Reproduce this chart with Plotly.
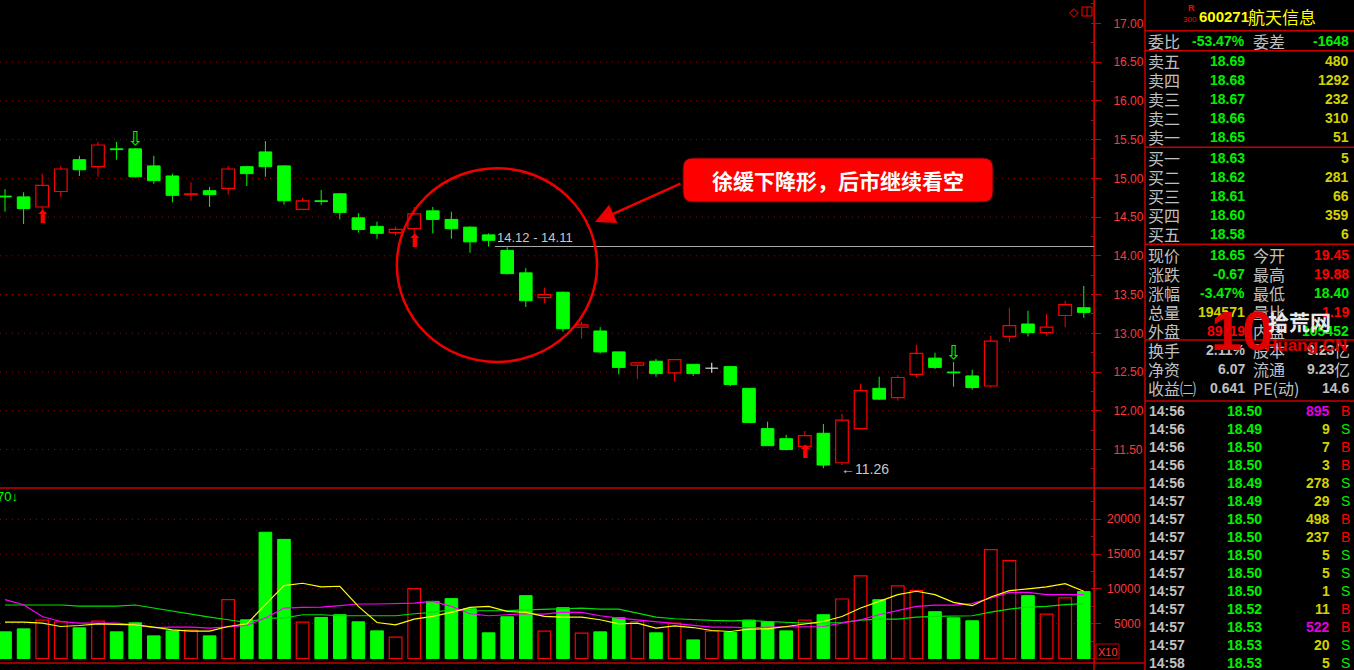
import plotly.graph_objects as go

W, H = 1354, 670

# ---------------- data ----------------
opens = [14.77, 14.76, 14.63, 14.83, 15.24, 15.15, 15.38, 15.38, 15.16, 15.03,
         14.79, 14.84, 14.87, 15.15, 15.34, 15.16, 14.60, 14.71, 14.80, 14.49,
         14.38, 14.30, 14.35, 14.58, 14.47, 14.37, 14.27, 14.07, 13.78, 13.46,
         13.53, 13.08, 13.03, 12.76, 12.59, 12.64, 12.49, 12.60, 12.55, 12.57,
         12.29, 11.77, 11.64, 11.54, 11.71, 11.33, 11.77, 12.29, 12.17, 12.47,
         12.68, 12.50, 12.45, 12.32, 12.96, 13.12, 13.01, 13.23, 13.33]
highs = [14.86, 14.82, 15.06, 15.16, 15.29, 15.47, 15.47, 15.39, 15.29, 15.06,
         14.95, 14.89, 15.16, 15.16, 15.48, 15.17, 14.75, 14.85, 14.81, 14.55,
         14.44, 14.38, 14.63, 14.63, 14.57, 14.38, 14.29, 14.11, 13.84, 13.59,
         13.54, 13.15, 13.08, 12.76, 12.62, 12.67, 12.67, 12.60, 12.62, 12.57,
         12.29, 11.86, 11.69, 11.74, 11.83, 11.96, 12.35, 12.44, 12.46, 12.85,
         12.75, 12.63, 12.53, 12.97, 13.33, 13.29, 13.25, 13.42, 13.61]
lows = [14.57, 14.41, 14.57, 14.76, 15.03, 15.02, 15.24, 15.01, 14.93, 14.69,
        14.71, 14.63, 14.79, 14.90, 15.02, 14.66, 14.60, 14.66, 14.47, 14.30,
        14.22, 14.26, 14.26, 14.29, 14.22, 14.04, 14.12, 13.76, 13.34, 13.39,
        13.02, 12.93, 12.74, 12.47, 12.41, 12.44, 12.38, 12.45, 12.49, 12.32,
        11.85, 11.55, 11.49, 11.54, 11.26, 11.30, 11.76, 12.14, 12.13, 12.43,
        12.54, 12.31, 12.27, 12.30, 12.89, 12.96, 12.97, 13.08, 13.20]
closes = [14.76, 14.61, 14.91, 15.12, 15.11, 15.43, 15.37, 15.02, 14.97, 14.78,
          14.80, 14.79, 15.12, 15.06, 15.15, 14.71, 14.71, 14.70, 14.56, 14.34,
          14.29, 14.34, 14.54, 14.47, 14.35, 14.18, 14.20, 13.77, 13.42, 13.50,
          13.06, 13.11, 12.76, 12.56, 12.62, 12.48, 12.66, 12.48, 12.55, 12.34,
          11.85, 11.55, 11.50, 11.68, 11.30, 11.88, 12.26, 12.15, 12.43, 12.74,
          12.56, 12.49, 12.30, 12.90, 13.10, 13.01, 13.08, 13.37, 13.27]
volumes = [3830, 4260, 5520, 5270, 4410, 5380, 3830, 5130, 3250, 3970,
           4080, 3250, 8450, 5560, 18140, 17120, 5230, 5900, 6290, 5270,
           3970, 3060, 10040, 8210, 8600, 7150, 3690, 6000, 9030, 3930,
           7300, 3640, 3830, 5850, 5320, 3690, 5090, 2670, 3930, 3730,
           5520, 5270, 3970, 5520, 6290, 8550, 11880, 8450, 10430, 9750,
           6720, 5850, 5420, 15640, 14050, 9030, 6390, 8700, 9610]
vol_ma5 = [5231, 5231, 5086, 4595, 4740, 4985, 4900, 4830, 4500, 4118,
           3930, 3930, 4595, 4985, 7730, 10476, 10810, 10288, 10380, 7485,
           5173, 4840, 5664, 6040, 6618, 7340, 7485, 6762, 6618, 6040,
           5950, 5950, 5563, 4985, 5086, 4360, 4690, 4450, 4020, 3880,
           4210, 4260, 4595, 4985, 5320, 6040, 7250, 8210, 9175, 9660,
           9175, 8065, 7586, 8840, 9754, 10000, 10288, 10765, 9660]
vol_ma10 = [8453, 7730, 6040, 5318, 5086, 5086, 5086, 4840, 4450, 4500,
            4500, 4360, 4595, 4740, 5810, 7250, 7340, 7390, 7586, 7830,
            7830, 7880, 7970, 8210, 7485, 6430, 6140, 6286, 6430, 6380,
            6670, 6618, 6140, 5810, 5563, 5231, 5086, 4840, 4500, 4500,
            4400, 4500, 4500, 4500, 4595, 5086, 5563, 6286, 6910, 7485,
            7680, 7680, 7880, 8700, 9510, 9510, 9175, 9175, 9175]
vol_ma20 = [7690, 7690, 7690, 7690, 7540, 7540, 7540, 7690, 7250, 6760,
            6286, 5950, 5563, 5173, 5810, 5810, 6286, 6286, 6140, 6140,
            6140, 6140, 6430, 6618, 7000, 6860, 6860, 6860, 7000, 7100,
            7250, 7250, 7100, 7100, 6520, 5950, 5710, 5563, 5470, 5420,
            5470, 5320, 5173, 5086, 5086, 5173, 5510, 5660, 5660, 5950,
            6040, 6140, 6140, 6670, 7100, 7390, 7485, 7730, 7880]
buy_signals = [2, 22, 43]
sell_signals = [7, 51]
gap_after = 26
price_ticks = [11.5, 12.0, 12.5, 13.0, 13.5, 14.0, 14.5, 15.0, 15.5, 16.0, 16.5, 17.0]
price_grid = [11.5, 12.0, 12.5, 13.0, 13.5, 14.0, 14.5, 15.0, 15.5, 16.0, 16.5]
volume_ticks = [5000, 10000, 15000, 20000]

stock_code = "600271"
stock_name = "航天信息"
weibi_row = ["委比", "-53.47%", "委差", "-1648"]
ask_labels = ["卖五", "卖四", "卖三", "卖二", "卖一"]
ask_prices = ["18.69", "18.68", "18.67", "18.66", "18.65"]
ask_vols = ["480", "1292", "232", "310", "51"]
bid_labels = ["买一", "买二", "买三", "买四", "买五"]
bid_prices = ["18.63", "18.62", "18.61", "18.60", "18.58"]
bid_vols = ["5", "281", "66", "359", "6"]
quote_left_labels = ["现价", "涨跌", "涨幅", "总量", "外盘"]
quote_left_values = ["18.65", "-0.67", "-3.47%", "194571", "89119"]
quote_right_labels = ["今开", "最高", "最低", "量比", "内盘"]
quote_right_values = ["19.45", "19.88", "18.40", "1.19", "105452"]
fin_left_labels = ["换手", "净资", "收益㈡"]
fin_left_values = ["2.11%", "6.07", "0.641"]
fin_right_labels = ["股本", "流通", "PE(动)"]
fin_right_values = ["9.23亿", "9.23亿", "14.6"]
tick_times = ["14:56", "14:56", "14:56", "14:56", "14:56", "14:57", "14:57", "14:57",
              "14:57", "14:57", "14:57", "14:57", "14:57", "14:57", "14:58"]
tick_prices = ["18.50", "18.49", "18.50", "18.50", "18.49", "18.49", "18.50", "18.50",
               "18.50", "18.50", "18.50", "18.52", "18.53", "18.53", "18.53"]
tick_vols = [895, 9, 7, 3, 278, 29, 498, 237, 5, 5, 1, 11, 522, 20, 5]
tick_sides = ["B", "S", "B", "B", "S", "S", "B", "B", "S", "S", "S", "B", "B", "S", "S"]
callout_text = "徐缓下降形，后市继续看空"

# ---------------- style ----------------
RED = "#ff0000"
GREEN = "#00ff00"
TGREEN = "#00f000"
YEL = "#d2d200"
GRAY = "#c0c0c0"
AXRED = "#ff3838"
LINERED = "#c80000"
GRIDRED = "#a00000"
CJK = "Noto Sans CJK SC"
NUM = "Liberation Sans"

PLOT_R = 1094
PANEL_L = 1145
PRICE_BOT = 488
VOL_BOT = 663
X0, X1 = -0.269, 58.55
P_LO, P_HI = 11.004, 17.3006
V_LO, V_HI = -647, 24500
HALF = 0.34

n = len(opens)
idx = list(range(n))

fig = go.Figure()

# wicks
groups = {"up": ([], [], RED), "down": ([], [], GREEN), "flat": ([], [], "#ffffff")}
for i in idx:
    o, h, l, c = opens[i], highs[i], lows[i], closes[i]
    k = "up" if c > o else ("down" if c < o else "flat")
    gx, gy, _ = groups[k]
    top, bot = max(o, c), min(o, c)
    gx += [i, i, None, i, i, None]
    gy += [h, top, None, bot, l, None]
    if k == "flat":
        gx += [i - HALF, i + HALF, None]
        gy += [o, o, None]
for k, (gx, gy, col) in groups.items():
    fig.add_trace(go.Scatter(x=gx, y=gy, mode="lines", line=dict(color=col, width=1),
                             hoverinfo="skip", showlegend=False, xaxis="x", yaxis="y"))

# bodies
up_i = [i for i in idx if closes[i] > opens[i]]
dn_i = [i for i in idx if closes[i] < opens[i]]
fig.add_trace(go.Bar(x=up_i, base=[opens[i] for i in up_i],
                     y=[closes[i] - opens[i] for i in up_i], width=0.68,
                     marker=dict(color="#000000", line=dict(color=RED, width=1.2)),
                     showlegend=False, hoverinfo="skip", xaxis="x", yaxis="y"))
fig.add_trace(go.Bar(x=dn_i, base=[closes[i] for i in dn_i],
                     y=[opens[i] - closes[i] for i in dn_i], width=0.68,
                     marker=dict(color=GREEN, line=dict(color=GREEN, width=1)),
                     showlegend=False, hoverinfo="skip", xaxis="x", yaxis="y"))

# signal arrows
fig.add_trace(go.Scatter(x=buy_signals, y=[lows[i] - 0.085 for i in buy_signals],
                         mode="text", text=["⬆"] * len(buy_signals),
                         textfont=dict(color=RED, size=18, family="DejaVu Sans"),
                         showlegend=False, hoverinfo="skip", xaxis="x", yaxis="y"))
fig.add_trace(go.Scatter(x=sell_signals, y=[highs[i] + 0.10 for i in sell_signals],
                         mode="text", text=["⇩"] * len(sell_signals),
                         textfont=dict(color=GREEN, size=19, family="DejaVu Sans"),
                         showlegend=False, hoverinfo="skip", xaxis="x", yaxis="y"))

# volume bars
vu = [i for i in idx if closes[i] >= opens[i]]
vd = [i for i in idx if closes[i] < opens[i]]
fig.add_trace(go.Bar(x=vu, y=[volumes[i] for i in vu], width=0.68,
                     marker=dict(color="#000000", line=dict(color=RED, width=1.2)),
                     showlegend=False, hoverinfo="skip", xaxis="x2", yaxis="y2"))
fig.add_trace(go.Bar(x=vd, y=[volumes[i] for i in vd], width=0.68,
                     marker=dict(color=GREEN, line=dict(color=GREEN, width=1)),
                     showlegend=False, hoverinfo="skip", xaxis="x2", yaxis="y2"))
for ser, col in [(vol_ma20, "#00e000"), (vol_ma10, "#ff00ff"), (vol_ma5, "#ffff00")]:
    fig.add_trace(go.Scatter(x=idx, y=ser, mode="lines", line=dict(color=col, width=1.2),
                             showlegend=False, hoverinfo="skip", xaxis="x2", yaxis="y2"))

dom_x = [0, PLOT_R / W]
fig.update_layout(
    width=W, height=H, margin=dict(l=0, r=0, t=0, b=0),
    paper_bgcolor="#000000", plot_bgcolor="#000000",
    barmode="overlay", showlegend=False,
    xaxis=dict(domain=dom_x, range=[X0, X1], visible=False, anchor="y"),
    xaxis2=dict(domain=dom_x, range=[X0, X1], visible=False, anchor="y2", matches="x"),
    yaxis=dict(domain=[1 - PRICE_BOT / H, 1], range=[P_LO, P_HI], side="right", anchor="x",
               showgrid=False, zeroline=False, showline=True, linecolor=LINERED, linewidth=1,
               ticks="outside", ticklen=6, tickcolor=LINERED, tickmode="array",
               tickvals=price_ticks, ticktext=[f"{t:.2f}" for t in price_ticks],
               tickfont=dict(family=NUM, size=12, color=AXRED), ticklabelstandoff=10,
               minor=dict(ticks="inside", ticklen=3, tickcolor=LINERED, tickmode="linear",
                          tick0=11.0, dtick=0.25, showgrid=False)),
    yaxis2=dict(domain=[1 - VOL_BOT / H, 1 - PRICE_BOT / H], range=[V_LO, V_HI], side="right",
                anchor="x2", showgrid=False, zeroline=False, showline=True, linecolor=LINERED,
                ticks="outside", ticklen=6, tickcolor=LINERED, tickmode="array",
                tickvals=volume_ticks, showticklabels=False,
                minor=dict(ticks="inside", ticklen=3, tickcolor=LINERED, tickmode="linear",
                           tick0=0, dtick=2500, showgrid=False)),
)

shapes = []
ann = []

def px(x):
    return x / W

def py(y):
    return 1 - y / H

# dotted grid
for g in price_grid:
    shapes.append(dict(type="line", xref="x domain", yref="y", x0=0, x1=1, y0=g, y1=g,
                       line=dict(color=GRIDRED, width=1, dash="1px,5px"), layer="below"))
for g in volume_ticks:
    shapes.append(dict(type="line", xref="x2 domain", yref="y2", x0=0, x1=1, y0=g, y1=g,
                       line=dict(color=GRIDRED, width=1, dash="1px,5px"), layer="below"))

# frame lines
for xl in (PLOT_R, PANEL_L):
    shapes.append(dict(type="line", xref="paper", yref="paper", x0=px(xl), x1=px(xl), y0=0, y1=1,
                       line=dict(color=LINERED, width=1.5)))
for yl in (PRICE_BOT, VOL_BOT):
    shapes.append(dict(type="line", xref="paper", yref="paper", x0=0, x1=px(PANEL_L), y0=py(yl), y1=py(yl),
                       line=dict(color=LINERED, width=1.5)))
for yl in (30.7, 50.7, 147.3, 244.3, 340, 401):
    shapes.append(dict(type="line", xref="paper", yref="paper", x0=px(PANEL_L), x1=1, y0=py(yl), y1=py(yl),
                       line=dict(color=LINERED, width=1.5)))

# gap line
gap_level = lows[gap_after]
shapes.append(dict(type="line", xref="x", yref="y", x0=gap_after + HALF, x1=X1,
                   y0=gap_level, y1=gap_level, line=dict(color="#a8a8a8", width=1)))
ann.append(dict(x=gap_after + HALF, y=gap_level, xref="x", yref="y", xanchor="left", yanchor="bottom",
                text=f"{lows[gap_after]:.2f} - {highs[gap_after + 1]:.2f}", showarrow=False,
                font=dict(family=NUM, size=13, color="#c8c8c8")))

# lowest label
imin = min(idx, key=lambda i: lows[i])
ann.append(dict(x=imin, y=lows[imin], xref="x", yref="y", xanchor="left", yanchor="middle",
                xshift=16, yshift=-1, text=f"←{lows[imin]:.2f}", showarrow=False,
                font=dict(family=NUM, size=14, color="#c8c8c8")))

# circle and callout
shapes.append(dict(type="circle", xref="x", yref="y", x0=21.07, x1=31.83, y0=12.63, y1=15.13,
                   line=dict(color="#ee0000", width=2.5)))
bx0, bx1, by0, by1, r = 683, 993, 158, 202, 10
path = (f"M{px(bx0 + r)},{py(by0)} L{px(bx1 - r)},{py(by0)} Q{px(bx1)},{py(by0)} {px(bx1)},{py(by0 + r)} "
        f"L{px(bx1)},{py(by1 - r)} Q{px(bx1)},{py(by1)} {px(bx1 - r)},{py(by1)} "
        f"L{px(bx0 + r)},{py(by1)} Q{px(bx0)},{py(by1)} {px(bx0)},{py(by1 - r)} "
        f"L{px(bx0)},{py(by0 + r)} Q{px(bx0)},{py(by0)} {px(bx0 + r)},{py(by0)} Z")
shapes.append(dict(type="path", xref="paper", yref="paper", path=path,
                   fillcolor="#ff0000", line=dict(color="#5a0000", width=1)))
ann.append(dict(x=px((bx0 + bx1) / 2), y=py((by0 + by1) / 2), xref="paper", yref="paper",
                text=f"<b>{callout_text}</b>", showarrow=False, xanchor="center", yanchor="middle",
                font=dict(family=CJK, size=21, color="#ffffff")))
ann.append(dict(x=31.72, y=14.436, xref="x", yref="y", ax=87, ay=-39, axref="pixel", ayref="pixel",
                text="", showarrow=True, arrowhead=2, arrowsize=1.6, arrowwidth=2.5, arrowcolor="#ee0000"))

# volume axis labels and panel marks
for v in volume_ticks:
    ann.append(dict(x=px(1143), y=v, xref="paper", yref="y2", xanchor="right", yanchor="middle",
                    text=str(v), showarrow=False, font=dict(family=NUM, size=12, color=AXRED)))
shapes.append(dict(type="rect", xref="paper", yref="paper", x0=px(1096), x1=px(1119), y0=py(659), y1=py(644),
                   line=dict(color=LINERED, width=1)))
ann.append(dict(x=px(1107.5), y=py(651.5), xref="paper", yref="paper", text="X10", showarrow=False,
                xanchor="center", yanchor="middle", font=dict(family=NUM, size=11, color=AXRED)))
ann.append(dict(x=px(-5), y=py(496), xref="paper", yref="paper", text="70↓", showarrow=False,
                xanchor="left", yanchor="middle", font=dict(family=NUM, size=13, color=GREEN)))
ann.append(dict(x=px(1073.5), y=py(12), xref="paper", yref="paper", text="◇", showarrow=False,
                xanchor="center", yanchor="middle", font=dict(family="DejaVu Sans", size=12, color=RED)))
shapes.append(dict(type="rect", xref="paper", yref="paper", x0=px(1082), x1=px(1092), y0=py(16), y1=py(7),
                   line=dict(color=RED, width=1)))
shapes.append(dict(type="line", xref="paper", yref="paper", x0=px(1087), x1=px(1087), y0=py(16), y1=py(7),
                   line=dict(color=RED, width=1)))

def txt(x, y, s, color, size=14, anchor="left", family=NUM, bold=True):
    ann.append(dict(x=px(x), y=py(y), xref="paper", yref="paper", showarrow=False,
                    xanchor=anchor, yanchor="middle", text=(f"<b>{s}</b>" if bold else s),
                    font=dict(family=family, size=size, color=color)))

# header
txt(1191, 8, "R", RED, 9, "center", NUM, True)
txt(1190, 19, "300", RED, 8, "center", NUM, False)
txt(1197, 17, stock_code, "#ffff00", 15)
txt(1246, 17, stock_name, "#ffff00", 17, "left", CJK, False)

LAB_X, V1_X, LAB2_X, V2_X = 1146, 1247, 1251, 1351
txt(LAB_X, 41, weibi_row[0], GRAY, 16, "left", CJK, False)
txt(V1_X, 41, weibi_row[1], TGREEN, 14, "right")
txt(LAB2_X, 41, weibi_row[2], GRAY, 16, "left", CJK, False)
txt(V2_X, 41, weibi_row[3], TGREEN, 14, "right")

for k, y in enumerate([61, 80, 99, 118.3, 137.3]):
    txt(LAB_X, y, ask_labels[k], GRAY, 16, "left", CJK, False)
    txt(V1_X, y, ask_prices[k], TGREEN, 14, "right")
    txt(V2_X, y, ask_vols[k], YEL, 14, "right")
for k, y in enumerate([157.7, 176.7, 195.7, 214.7, 234]):
    txt(LAB_X, y, bid_labels[k], GRAY, 16, "left", CJK, False)
    txt(V1_X, y, bid_prices[k], TGREEN, 14, "right")
    txt(V2_X, y, bid_vols[k], YEL, 14, "right")

ql_colors = [TGREEN, TGREEN, TGREEN, YEL, RED]
qr_colors = [RED, RED, TGREEN, RED, TGREEN]
for k, y in enumerate([255, 274.3, 293.3, 312, 331]):
    txt(LAB_X, y, quote_left_labels[k], GRAY, 16, "left", CJK, False)
    txt(V1_X, y, quote_left_values[k], ql_colors[k], 14, "right")
    txt(LAB2_X, y, quote_right_labels[k], GRAY, 16, "left", CJK, False)
    txt(V2_X, y, quote_right_values[k], qr_colors[k], 14, "right")
for k, y in enumerate([350, 369.3, 388.3]):
    txt(LAB_X, y, fin_left_labels[k], GRAY, 16, "left", CJK, False)
    txt(V1_X, y, fin_left_values[k], GRAY, 14, "right")
    txt(LAB2_X, y, fin_right_labels[k], GRAY, 16, "left", CJK, False)
    v = fin_right_values[k]
    if v.endswith("亿"):
        txt(V2_X - 15, y, v[:-1], GRAY, 14, "right")
        txt(V2_X + 1, y, "亿", GRAY, 16, "right", CJK, False)
    else:
        txt(V2_X, y, v, GRAY, 14, "right")

for k in range(len(tick_times)):
    y = 410.7 + 18 * k
    txt(1147, y, tick_times[k], GRAY, 14, "left")
    txt(1264, y, tick_prices[k], TGREEN, 14, "right")
    txt(1332, y, str(tick_vols[k]), "#e000e0" if tick_vols[k] > 500 else YEL, 14, "right")
    txt(1339, y, tick_sides[k], RED if tick_sides[k] == "B" else TGREEN, 14, "left", NUM, False)

# watermark logo
txt(1209, 331, "10", "#e00000", 56, "left", NUM, True)
txt(1266, 321, "拾荒网", "#e8e8e8", 21, "left", CJK, True)
txt(1263, 345, "Huang.CN", "#e00000", 17, "left", NUM, True)

fig.update_layout(shapes=shapes, annotations=ann)

fig.write_html("out.html", config={"displayModeBar": False},
               post_script="document.body.style.margin='0';document.body.style.background='black';")
